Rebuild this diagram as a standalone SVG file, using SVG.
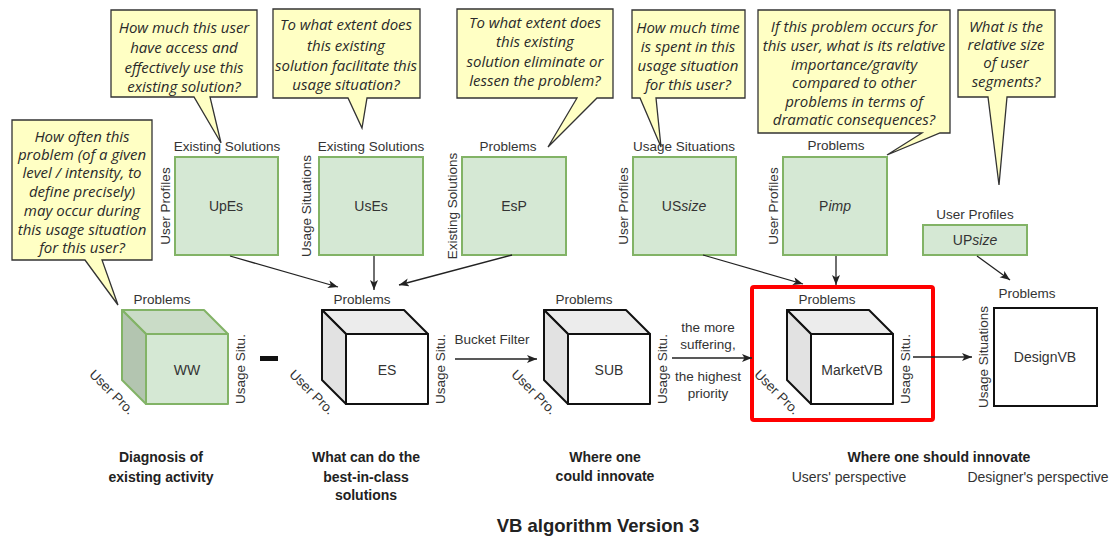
<svg xmlns="http://www.w3.org/2000/svg" xmlns:xlink="http://www.w3.org/1999/xlink" width="1110" height="536" viewBox="0 0 1110 536">
<style>
.callout{fill:#ffffc4;stroke:#333;stroke-width:1.3;stroke-linejoin:miter}
.ct{font-family:"Open Sans","Liberation Sans",sans-serif;font-style:italic;font-size:15px;fill:#2a2a2a;text-anchor:middle}
.gbox{fill:#d5e8d4;stroke:#82b366;stroke-width:2}
.lbl{font-family:"Liberation Sans",Arial,sans-serif;font-size:13.5px;fill:#333;text-anchor:middle}
.node{font-family:"Liberation Sans",Arial,sans-serif;font-size:14px;fill:#333;text-anchor:middle}
.it{font-style:italic}
.edge{stroke:#222;stroke-width:1.3;fill:none;marker-end:url(#arr)}
.cap{font-family:"Liberation Sans",Arial,sans-serif;font-size:14px;font-weight:bold;fill:#222;text-anchor:middle}
.sub{font-family:"Liberation Sans",Arial,sans-serif;font-size:14px;fill:#333;text-anchor:middle}
.wf{stroke:#111;stroke-width:2;stroke-linejoin:round}
.gf{stroke:#82b366;stroke-width:2;stroke-linejoin:round}
</style>
<defs>
<marker id="arr" markerUnits="userSpaceOnUse" markerWidth="12" markerHeight="10" refX="10" refY="4" orient="auto">
<path d="M0,0 L10,4 L0,8 L2.5,4 Z" fill="#222"/>
</marker>
<g id="cube-white" class="wf">
<polygon points="0,0 82,0 106,24 24,24" fill="#ececec"/>
<polygon points="0,0 24,24 24,94 0,70" fill="#e2e2e2"/>
<rect x="24" y="24" width="82" height="70" fill="#ffffff"/>
</g>
<g id="cube-green" class="gf">
<polygon points="0,0 82,0 106,24 24,24" fill="#cadcc7"/>
<polygon points="0,0 24,24 24,94 0,70" fill="#b3c5b0"/>
<rect x="24" y="24" width="82" height="70" fill="#d5e8d4"/>
</g>
</defs>

<g id="callouts">
<g id="callout-upes">
<path class="callout" d="M111,10 H257 V97 H210 L221,143 L194,97 H111 Z"/>
<text class="ct" x="184" y="33">How much this user</text>
<text class="ct" x="184" y="53">have access and</text>
<text class="ct" x="184" y="73">effectively use this</text>
<text class="ct" x="184" y="92">existing solution?</text>
</g>
<g id="callout-uses">
<path class="callout" d="M273,9 H420 V98 H367 L362,128 L348,98 H273 Z"/>
<text class="ct" x="346" y="30">To what extent does</text>
<text class="ct" x="346" y="51">this existing</text>
<text class="ct" x="346" y="71">solution facilitate this</text>
<text class="ct" x="346" y="90">usage situation?</text>
</g>
<g id="callout-esp">
<path class="callout" d="M457,9 H613 V98 H597 L548,147 L577,98 H457 Z"/>
<text class="ct" x="535" y="28">To what extent does</text>
<text class="ct" x="535" y="47">this existing</text>
<text class="ct" x="535" y="67">solution eliminate or</text>
<text class="ct" x="535" y="86">lessen the problem?</text>
</g>
<g id="callout-ussize">
<path class="callout" d="M632,10 H745 V98 H656 L661,147 L640,98 H632 Z"/>
<text class="ct" x="688" y="33">How much time</text>
<text class="ct" x="688" y="52">is spent in this</text>
<text class="ct" x="688" y="71">usage situation</text>
<text class="ct" x="688" y="90">for this user?</text>
</g>
<g id="callout-pimp">
<path class="callout" d="M758,10 H950 V133 H940 L887,155 L922,133 H758 Z"/>
<text class="ct" x="854" y="32">If this problem occurs for</text>
<text class="ct" x="854" y="51">this user, what is its relative</text>
<text class="ct" x="854" y="70">importance/gravity</text>
<text class="ct" x="854" y="88">compared to other</text>
<text class="ct" x="854" y="107">problems in terms of</text>
<text class="ct" x="854" y="125">dramatic consequences?</text>
</g>
<g id="callout-upsize">
<path class="callout" d="M958,10 H1055 V97 H1007 L999,185 L988,97 H958 Z"/>
<text class="ct" x="1006" y="32">What is the</text>
<text class="ct" x="1006" y="50">relative size</text>
<text class="ct" x="1006" y="68">of user</text>
<text class="ct" x="1006" y="87">segments?</text>
</g>
<g id="callout-ww">
<path class="callout" d="M12,120 H152 V260 H102 L118,305 L85,260 H12 Z"/>
<text class="ct" x="82" y="142">How often this</text>
<text class="ct" x="82" y="160">problem (of a given</text>
<text class="ct" x="82" y="178">level / intensity, to</text>
<text class="ct" x="82" y="197">define precisely)</text>
<text class="ct" x="82" y="216">may occur during</text>
<text class="ct" x="82" y="235">this usage situation</text>
<text class="ct" x="82" y="253">for this user?</text>
</g>
</g>

<g id="node-upes">
<rect class="gbox" x="175" y="157" width="103" height="98"/>
<text class="lbl" x="227" y="151">Existing Solutions</text>
<text class="lbl" x="170" y="206" transform="rotate(-90,170,206)">User Profiles</text>
<text class="node" x="226" y="211">UpEs</text>
</g>
<g id="node-uses">
<rect class="gbox" x="319" y="157" width="104" height="98"/>
<text class="lbl" x="371" y="151">Existing Solutions</text>
<text class="lbl" x="311" y="206" transform="rotate(-90,311,206)">Usage Situations</text>
<text class="node" x="371" y="211">UsEs</text>
</g>
<g id="node-esp">
<rect class="gbox" x="462" y="157" width="104" height="98"/>
<text class="lbl" x="508" y="151">Problems</text>
<text class="lbl" x="457" y="206" transform="rotate(-90,457,206)">Existing Solutions</text>
<text class="node" x="514" y="211">EsP</text>
</g>
<g id="node-ussize">
<rect class="gbox" x="633" y="157" width="103" height="98"/>
<text class="lbl" x="684" y="151">Usage Situations</text>
<text class="lbl" x="628" y="206" transform="rotate(-90,628,206)">User Profiles</text>
<text class="node" x="684" y="211">US<tspan class="it">size</tspan></text>
</g>
<g id="node-pimp">
<rect class="gbox" x="783" y="157" width="104" height="98"/>
<text class="lbl" x="836" y="150">Problems</text>
<text class="lbl" x="778" y="206" transform="rotate(-90,778,206)">User Profiles</text>
<text class="node" x="835" y="211">P<tspan class="it">imp</tspan></text>
</g>
<g id="node-upsize">
<rect class="gbox" x="923" y="225" width="104" height="30"/>
<text class="lbl" x="975" y="219">User Profiles</text>
<text class="node" x="975" y="245">UP<tspan class="it">size</tspan></text>
</g>

<g id="node-ww">
<use xlink:href="#cube-green" href="#cube-green" x="122" y="310"/>
<text class="lbl" x="162" y="304">Problems</text>
<text class="lbl" x="245" y="369" transform="rotate(-90,245,369)">Usage Situ.</text>
<text class="lbl" x="112" y="392" dy="0.35em" transform="rotate(45,112,392)">User Pro.</text>
<text class="node" x="187" y="375">WW</text>
</g>
<rect id="minus" x="260" y="356" width="18" height="5" fill="#111"/>
<g id="node-es">
<use xlink:href="#cube-white" href="#cube-white" x="322" y="310"/>
<text class="lbl" x="362" y="304">Problems</text>
<text class="lbl" x="445" y="369" transform="rotate(-90,445,369)">Usage Situ.</text>
<text class="lbl" x="312" y="392" dy="0.35em" transform="rotate(45,312,392)">User Pro.</text>
<text class="node" x="387" y="375">ES</text>
</g>
<g id="node-sub">
<use xlink:href="#cube-white" href="#cube-white" x="544" y="310"/>
<text class="lbl" x="584" y="304">Problems</text>
<text class="lbl" x="667" y="369" transform="rotate(-90,667,369)">Usage Situ.</text>
<text class="lbl" x="534" y="392" dy="0.35em" transform="rotate(45,534,392)">User Pro.</text>
<text class="node" x="609" y="375">SUB</text>
</g>
<g id="node-marketvb">
<rect x="752" y="287" width="181" height="133" rx="2" fill="none" stroke="#ff0000" stroke-width="4"/>
<use xlink:href="#cube-white" href="#cube-white" x="787" y="310"/>
<text class="lbl" x="827" y="304">Problems</text>
<text class="lbl" x="910" y="369" transform="rotate(-90,910,369)">Usage Situ.</text>
<text class="lbl" x="777" y="392" dy="0.35em" transform="rotate(45,777,392)">User Pro.</text>
<text class="node" x="852" y="375">MarketVB</text>
</g>
<g id="node-designvb">
<rect x="994" y="308" width="103" height="98" fill="#fff" stroke="#111" stroke-width="2"/>
<text class="lbl" x="1027" y="298">Problems</text>
<text class="lbl" x="988" y="357" transform="rotate(-90,988,357)">Usage Situations</text>
<text class="node" x="1045" y="362">DesignVB</text>
</g>

<g id="connectors">
<path class="edge" d="M230,256 L338,287"/>
<path class="edge" d="M374,256 L374,290"/>
<path class="edge" d="M512,255 L399,285"/>
<path class="edge" d="M703,255 L803,284"/>
<path class="edge" d="M836,256 L836,285"/>
<path class="edge" d="M977,256 L1010,280"/>
<path class="edge" d="M455,359 L537,359"/>
<path class="edge" d="M672,358 L752,358"/>
<path class="edge" d="M913,357 L972,357"/>
<text class="lbl" x="492" y="344">Bucket Filter</text>
<text class="lbl" x="708" y="332">the more</text>
<text class="lbl" x="708" y="349">suffering,</text>
<text class="lbl" x="708" y="381">the highest</text>
<text class="lbl" x="708" y="398">priority</text>
</g>

<g id="captions">
<text class="cap" x="161" y="462">Diagnosis of</text>
<text class="cap" x="161" y="482">existing activity</text>
<text class="cap" x="366" y="462">What can do the</text>
<text class="cap" x="366" y="482">best-in-class</text>
<text class="cap" x="366" y="500">solutions</text>
<text class="cap" x="605" y="462">Where one</text>
<text class="cap" x="605" y="481">could innovate</text>
<text class="cap" x="939" y="462">Where one should innovate</text>
<text class="sub" x="849" y="482">Users' perspective</text>
<text class="sub" x="1038" y="482">Designer's perspective</text>
<text x="598" y="532" font-family="Liberation Sans, Arial, sans-serif" font-size="18.5" font-weight="bold" fill="#222" text-anchor="middle">VB algorithm Version 3</text>
</g>
</svg>
